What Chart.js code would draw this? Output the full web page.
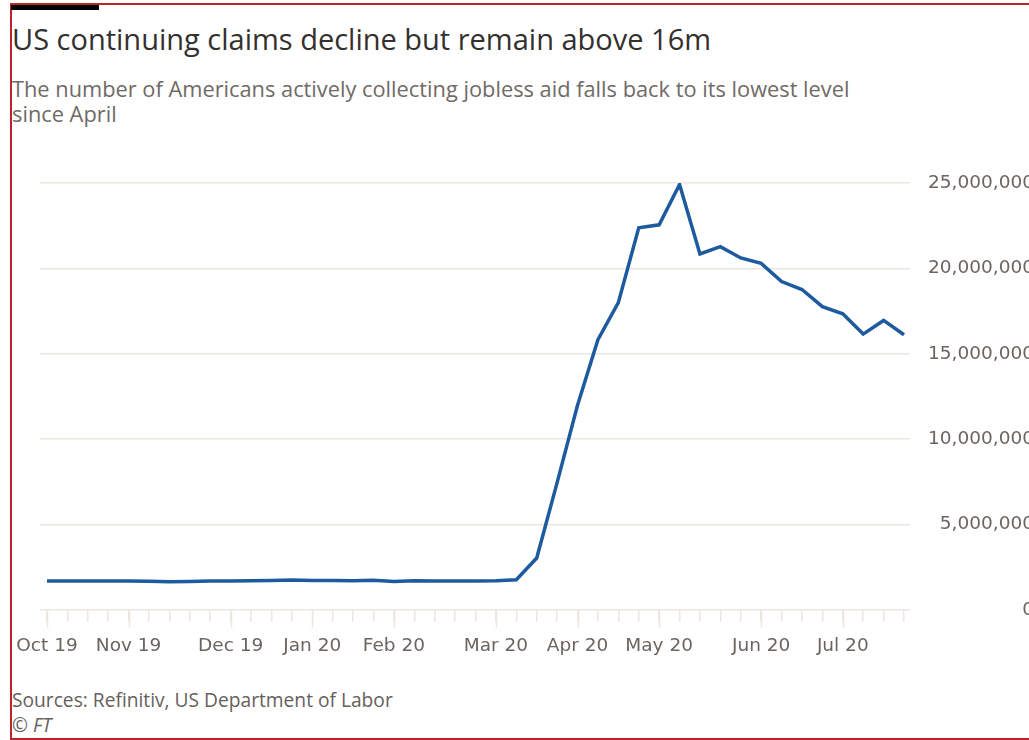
<!DOCTYPE html>
<html>
<head>
<meta charset="utf-8">
<script src="https://cdn.jsdelivr.net/npm/chart.js@4/dist/chart.umd.min.js"></script>
<style>
  html, body { margin: 0; padding: 0; background: #fff; overflow: hidden; }
  body { width: 1029px; height: 740px; position: relative; }
  .frame { position: absolute; left: 10px; top: 3px; width: 1100px; height: 733px;
           border: 2px solid #b8262b; border-right: none; }
  .bar { position: absolute; left: 11px; top: 5px; width: 88px; height: 5px; background: #000; }
  .title { position: absolute; left: 12px; top: 19px; font: 29px "Open Sans", sans-serif; color: #33302e; white-space: nowrap; }
  .sub { position: absolute; left: 12px; top: 76px; font: 21.8px/25px "Open Sans", sans-serif; color: #6f6a66; white-space: nowrap; }
  .source { position: absolute; left: 12px; top: 687px; font: 19.2px/25px "Open Sans", sans-serif; color: #66605c; }
  .chart-box { position: absolute; left: 0; top: 0; width: 1034px; height: 740px; }
</style>
</head>
<body>
<div class="frame"></div>
<div class="bar"></div>
<div class="title">US continuing claims decline but remain above 16m</div>
<div class="sub">The number of Americans actively collecting jobless aid falls back to its lowest level<br>since April</div>
<div class="source">Sources: Refinitiv, US Department of Labor<br><i>© FT</i></div>
<div class="chart-box"><canvas id="claimsChart"></canvas></div>

<script>
// Week ending dates (categories)
const weekEnding = [
    '2019-10-05', '2019-10-12', '2019-10-19', '2019-10-26',
    '2019-11-02', '2019-11-09', '2019-11-16', '2019-11-23', '2019-11-30',
    '2019-12-07', '2019-12-14', '2019-12-21', '2019-12-28',
    '2020-01-04', '2020-01-11', '2020-01-18', '2020-01-25',
    '2020-02-01', '2020-02-08', '2020-02-15', '2020-02-22', '2020-02-29',
    '2020-03-07', '2020-03-14', '2020-03-21', '2020-03-28',
    '2020-04-04', '2020-04-11', '2020-04-18', '2020-04-25',
    '2020-05-02', '2020-05-09', '2020-05-16', '2020-05-23', '2020-05-30',
    '2020-06-06', '2020-06-13', '2020-06-20', '2020-06-27',
    '2020-07-04', '2020-07-11', '2020-07-18', '2020-07-25'
];

// Continuing claims
const continuingClaims = [
    1680000, 1680000, 1690000, 1680000,
    1680000, 1670000, 1640000, 1660000, 1680000,
    1690000, 1700000, 1710000, 1740000,
    1720000, 1710000, 1700000, 1730000,
    1660000, 1700000, 1690000, 1690000, 1690000,
    1700000, 1760000, 3030000, 7450000,
    11980000, 15820000, 17990000, 22380000,
    22550000, 24910000, 20840000, 21270000, 20610000,
    20290000, 19230000, 18760000, 17760000,
    17340000, 16150000, 16950000, 16110000
];

const yTicks = [0, 5000000, 10000000, 15000000, 20000000, 25000000];
const monthNames = ['Jan', 'Feb', 'Mar', 'Apr', 'May', 'Jun', 'Jul', 'Aug', 'Sep', 'Oct', 'Nov', 'Dec'];

// Label a week only when it is the first week of a new month
function monthLabel(i) {
    const d = weekEnding[i];
    if (!d) return '';
    const prev = weekEnding[i - 1];
    if (prev && prev.slice(5, 7) === d.slice(5, 7)) return '';
    return monthNames[parseInt(d.slice(5, 7)) - 1] + ' ' + d.slice(2, 4);
}

const gridColour = '#ebe6e0';

// Longer tick marks at the start of each month
const monthTicks = {
    id: 'monthTicks',
    afterDraw(chart) {
        const xs = chart.scales.x;
        const ctx = chart.ctx;
        const bottom = chart.chartArea.bottom;
        ctx.save();
        ctx.strokeStyle = gridColour;
        ctx.lineWidth = 1.5;
        weekEnding.forEach((d, i) => {
            if (monthLabel(i) === '') return;
            const px = Math.round(xs.getPixelForValue(i)) + 0.5;
            ctx.beginPath();
            ctx.moveTo(px, bottom);
            ctx.lineTo(px, bottom + 18);
            ctx.stroke();
        });
        ctx.restore();
    }
};

const ctx = document.getElementById('claimsChart').getContext('2d');
new Chart(ctx, {
    type: 'line',
    data: {
        datasets: [{
            data: continuingClaims.map((v, i) => ({ x: i, y: v })),
            borderColor: '#1d5a9e',
            borderWidth: 3.5,
            pointRadius: 0,
            tension: 0,
            fill: false
        }]
    },
    options: {
        responsive: true,
        maintainAspectRatio: false,
        animation: false,
        layout: { padding: { left: 40, top: 183, bottom: 70, right: 0 } },
        plugins: { legend: { display: false }, tooltip: { enabled: false } },
        scales: {
            x: {
                type: 'linear',
                min: -0.343,
                max: 42.294,
                afterBuildTicks: scale => {
                    scale.ticks = weekEnding.map((d, i) => ({ value: i }));
                },
                grid: { drawOnChartArea: false, color: gridColour, tickColor: gridColour, tickLength: 12, lineWidth: 1.5 },
                border: { display: false },
                ticks: {
                    autoSkip: false,
                    maxRotation: 0,
                    padding: 13,
                    color: '#6b6560',
                    font: { family: 'DejaVu Sans', size: 18.5 },
                    callback: (v, i) => monthLabel(i)
                }
            },
            y: {
                position: 'right',
                min: 0,
                max: 25000000,
                afterBuildTicks: scale => {
                    scale.ticks = yTicks.map(v => ({ value: v }));
                },
                afterFit: scale => { scale.width = 124; },
                grid: { color: gridColour, lineWidth: 1.5, drawTicks: false },
                border: { display: false },
                ticks: {
                    padding: 10,
                    crossAlign: 'far',
                    color: '#6b6560',
                    font: { family: 'DejaVu Sans', size: 18.5 },
                    callback: v => v.toLocaleString('en-US')
                }
            }
        }
    },
    plugins: [monthTicks]
});
</script>
</body>
</html>
